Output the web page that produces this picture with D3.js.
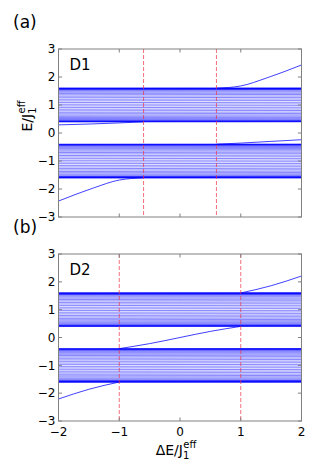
<!DOCTYPE html>
<html>
<head>
<meta charset="utf-8">
<script src="https://cdn.jsdelivr.net/npm/d3@7"></script>
<style>
  body { margin: 0; background: #fff; }
  svg { display: block; font-family: "DejaVu Sans", sans-serif; }
</style>
</head>
<body>
<div id="chart"></div>
<script>
// axis ticks
var xTicks = [-2, -1, 0, 1, 2];
var yTicks = [3, 2, 1, 0, -1, -2, -3];

// bulk band levels: E at ΔE = -2 (left) and ΔE = 2 (right)
var upperBandLeft  = [1.600, 1.599, 1.597, 1.594, 1.588, 1.580, 1.570, 1.558, 1.545, 1.530, 1.496, 1.456, 1.412, 1.364, 1.314, 1.260, 1.204, 1.146, 1.086, 1.026, 0.966, 0.906, 0.848, 0.792, 0.738, 0.686, 0.638, 0.594, 0.554, 0.518, 0.486, 0.460, 0.438, 0.428, 0.420, 0.412, 0.406, 0.402, 0.400];
var upperBandRight = [1.600, 1.599, 1.598, 1.596, 1.591, 1.584, 1.576, 1.566, 1.554, 1.540, 1.504, 1.466, 1.420, 1.376, 1.322, 1.272, 1.214, 1.158, 1.096, 1.038, 0.976, 0.918, 0.858, 0.804, 0.748, 0.698, 0.648, 0.604, 0.562, 0.528, 0.494, 0.466, 0.444, 0.432, 0.424, 0.416, 0.410, 0.404, 0.402];
var lowerBandLeft  = [-0.402, -0.404, -0.410, -0.416, -0.424, -0.432, -0.444, -0.466, -0.494, -0.528, -0.562, -0.604, -0.648, -0.698, -0.748, -0.804, -0.858, -0.918, -0.976, -1.038, -1.096, -1.158, -1.214, -1.272, -1.322, -1.376, -1.420, -1.466, -1.504, -1.540, -1.554, -1.566, -1.576, -1.584, -1.591, -1.596, -1.598, -1.599, -1.600];
var lowerBandRight = [-0.400, -0.402, -0.406, -0.412, -0.420, -0.428, -0.438, -0.460, -0.486, -0.518, -0.554, -0.594, -0.638, -0.686, -0.738, -0.792, -0.848, -0.906, -0.966, -1.026, -1.086, -1.146, -1.204, -1.260, -1.314, -1.364, -1.412, -1.456, -1.496, -1.530, -1.545, -1.558, -1.570, -1.580, -1.588, -1.594, -1.597, -1.599, -1.600];

// edge states, panel (a) D1: [ΔE, E]
var edgeA1 = [[-2, 0.29], [-1.5, 0.32], [-1, 0.36], [-0.6, 0.40]];
var edgeA2 = [[0.6, 1.60], [1.0, 1.68], [1.42, 1.96], [2, 2.43]];
var edgeA3 = [[-2, -2.43], [-1.42, -1.96], [-1, -1.68], [-0.6, -1.60]];
var edgeA4 = [[0.6, -0.40], [1.0, -0.36], [1.5, -0.30], [2, -0.24]];
var dashA = [-0.6, 0.6];

// edge states, panel (b) D2
var edgeB1 = [[-2, -2.21], [-1.5, -1.86], [-1, -1.60]];
var edgeB2 = [[1, 1.60], [1.5, 1.86], [2, 2.21]];
var edgeB3 = [[-1, -0.40], [-0.5, -0.22], [0, 0.0], [0.5, 0.22], [1, 0.40]];
var dashB = [-1, 1];

var W = 332, H = 468;
var svg = d3.select("#chart").append("svg")
    .attr("width", W)
    .attr("height", H);

var x = d3.scaleLinear().domain([-2, 2]).range([58.5, 301.5]);

function drawPanel(top, bottom, id, tag, name, edges, dashes) {
    var y = d3.scaleLinear().domain([-3, 3]).range([bottom, top]);
    var g = svg.append("g");

    g.append("clipPath").attr("id", id)
        .append("rect")
        .attr("x", x(-2)).attr("y", top)
        .attr("width", x(2) - x(-2)).attr("height", bottom - top);

    var plot = g.append("g").attr("clip-path", "url(#" + id + ")");
    var line = d3.line().x(function(d) { return x(d[0]); }).y(function(d) { return y(d[1]); });

    // bulk bands
    var bands = [];
    upperBandLeft.forEach(function(e, i) { bands.push([[-2, e], [2, upperBandRight[i]]]); });
    lowerBandLeft.forEach(function(e, i) { bands.push([[-2, e], [2, lowerBandRight[i]]]); });

    plot.selectAll(".band").data(bands).enter().append("path")
        .attr("class", "band")
        .attr("d", line)
        .style("fill", "none")
        .style("stroke", "#0000ff")
        .style("stroke-opacity", 0.6)
        .style("stroke-width", 0.8);

    plot.selectAll(".edge").data(edges).enter().append("path")
        .attr("class", "edge")
        .attr("d", line.curve(d3.curveMonotoneX))
        .style("fill", "none")
        .style("stroke", "#0000ff")
        .style("stroke-opacity", 0.75)
        .style("stroke-width", 1);

    plot.selectAll(".dash").data(dashes).enter().append("line")
        .attr("x1", function(d) { return x(d); })
        .attr("x2", function(d) { return x(d); })
        .attr("y1", top).attr("y2", bottom)
        .style("stroke", "#ee3344")
        .style("stroke-opacity", 0.7)
        .style("stroke-width", 1)
        .style("stroke-dasharray", "4,2");

    // frame and inside ticks on all sides
    var axisColor = "#808080";
    g.append("rect")
        .attr("x", x(-2)).attr("y", top)
        .attr("width", x(2) - x(-2)).attr("height", bottom - top)
        .style("fill", "none").style("stroke", axisColor).style("stroke-width", 1);

    xTicks.forEach(function(t) {
        g.append("line").attr("x1", x(t)).attr("x2", x(t)).attr("y1", top).attr("y2", top + 3.5)
            .style("stroke", axisColor);
        g.append("line").attr("x1", x(t)).attr("x2", x(t)).attr("y1", bottom).attr("y2", bottom - 3.5)
            .style("stroke", axisColor);
    });
    yTicks.forEach(function(t) {
        g.append("line").attr("x1", x(-2)).attr("x2", x(-2) + 3.5).attr("y1", y(t)).attr("y2", y(t))
            .style("stroke", axisColor);
        g.append("line").attr("x1", x(2)).attr("x2", x(2) - 3.5).attr("y1", y(t)).attr("y2", y(t))
            .style("stroke", axisColor);
        g.append("text")
            .attr("x", x(-2) - 3)
            .attr("y", y(t) + 4.3)
            .attr("text-anchor", "end")
            .style("font-size", "12px")
            .text(t < 0 ? "\u2212" + Math.abs(t) : t);
    });

    g.append("text")
        .attr("x", 13).attr("y", top - 21)
        .style("font-size", "17px")
        .text(tag);

    g.append("text")
        .attr("x", x(-2) + 11).attr("y", top + 21)
        .style("font-size", "15px")
        .text(name);

    return y;
}

drawPanel(49, 217, "clipA", "(a)", "D1", [edgeA1, edgeA2, edgeA3, edgeA4], dashA);
drawPanel(254, 421, "clipB", "(b)", "D2", [edgeB1, edgeB2, edgeB3], dashB);

// x tick labels (bottom panel only)
xTicks.forEach(function(t) {
    svg.append("text")
        .attr("x", x(t))
        .attr("y", 436)
        .attr("text-anchor", "middle")
        .style("font-size", "12px")
        .text(t < 0 ? "\u2212" + Math.abs(t) : t);
});

// x label: ΔE/J_1^eff
var xl = svg.append("text")
    .attr("x", 176).attr("y", 455)
    .attr("text-anchor", "middle")
    .style("font-size", "14px");
xl.append("tspan").text("\u0394E/J");
xl.append("tspan").attr("dy", 4).style("font-size", "10px").text("1");
xl.append("tspan").attr("dx", -6).attr("dy", -11).style("font-size", "10px").text("eff");

// y label: E/J_1^eff
var yl = svg.append("text")
    .attr("transform", "translate(32,116) rotate(-90)")
    .attr("text-anchor", "middle")
    .style("font-size", "14px");
yl.append("tspan").text("E/J");
yl.append("tspan").attr("dy", 4).style("font-size", "10px").text("1");
yl.append("tspan").attr("dx", -6).attr("dy", -11).style("font-size", "10px").text("eff");
</script>
</body>
</html>
